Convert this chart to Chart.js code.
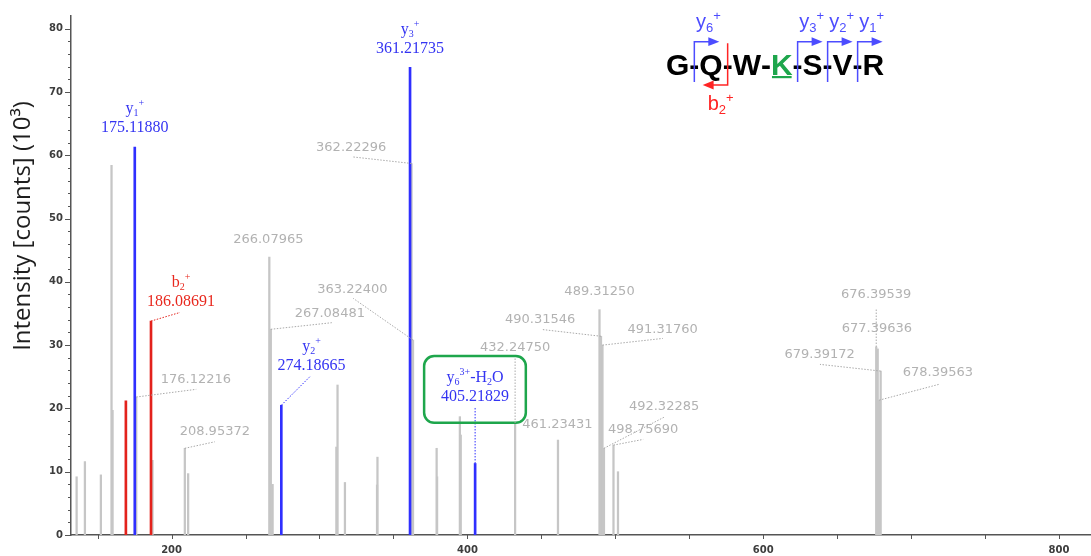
<!DOCTYPE html>
<html>
<head>
<meta charset="utf-8">
<script src="https://cdn.jsdelivr.net/npm/chart.js@4.4.0/dist/chart.umd.min.js"></script>
<style>
  html, body { margin: 0; padding: 0; background: #ffffff; }
  #wrap { width: 1091px; height: 556px; position: relative; }
</style>
</head>
<body>
<div id="wrap"><canvas id="c" width="1091" height="556"></canvas></div>
<script>
// MS/MS spectrum of G-Q-W-K-S-V-R, intensities in 10^3 counts

// unassigned peaks
const grayMz  = [135.8, 141.4, 152.2, 159.4, 160.1, 176.12216, 187.09, 208.95372, 211.2,
                 266.07965, 267.08481, 268.3, 311.4, 312.2, 317.2, 338.9, 339.2,
                 362.22296, 363.22400, 379.2, 379.5, 394.9, 395.5, 432.24750, 461.23431,
                 489.31250, 490.31546, 491.31760, 492.32285, 498.75690, 501.8,
                 676.39539, 677.39636, 678.39563, 679.39172];
const grayInt = [9.2, 11.6, 9.5, 58.4, 19.7, 21.8, 11.8, 13.7, 9.7,
                 43.9, 32.5, 8.0, 13.9, 23.7, 8.3, 7.9, 12.3,
                 58.7, 30.8, 13.7, 9.2, 18.7, 15.8, 17.7, 15.0,
                 35.6, 31.4, 30.0, 13.7, 14.2, 10.0,
                 29.7, 29.4, 21.3, 25.9];

// y-type fragment ions
const yIonMz  = [175.11880, 274.18665, 361.21735, 405.21829];
const yIonInt = [61.3, 20.5, 73.9, 11.3];
const yIonName = ['y_1^+', 'y_2^+', 'y_3^+', 'y_6^3^+-H_2O'];

// b-type fragment ions
const bIonMz  = [169.1, 186.08691];
const bIonInt = [21.2, 33.8];
const bIonName = ['', 'b_2^+'];

// annotated unassigned peaks
const grayLabelMz = [176.12216, 208.95372, 266.07965, 267.08481, 363.22400, 362.22296,
                     432.24750, 461.23431, 489.31250, 490.31546, 491.31760, 492.32285,
                     498.75690, 676.39539, 677.39636, 679.39172, 678.39563];

// axis ticks
const xTickStep = 50, xLabelStep = 200;
const yTickStep = 2,  yLabelStep = 10;

// peptide sequence and fragment cleavage sites (index of residue before the cut)
const sequence = ['G', 'Q', 'W', 'K', 'S', 'V', 'R'];
const modifiedResidue = 3;
const fragments = [
  { name: 'y_6^+', cut: 0, type: 'y' },
  { name: 'b_2^+', cut: 1, type: 'b' },
  { name: 'y_3^+', cut: 3, type: 'y' },
  { name: 'y_2^+', cut: 4, type: 'y' },
  { name: 'y_1^+', cut: 5, type: 'y' }
];

// label placement: [label dx, label dy, leader end dx, leader end dy] relative to the peak top (px)
const labelPlacement = {
  '175.1188':  [0, -15, null, null],
  '186.08691': [30, -15, 29, -8.6],
  '274.18665': [30.2, -35.2, 28.5, -28.5],
  '361.21735': [0, -14.3, null, null],
  '405.21829': [0, -62.7, 0, -56.7],
  '176.12216': [59.6, -14, 60, -7.7],
  '208.95372': [30, -13, 30, -6.5],
  '266.07965': [-1, -14, null, null],
  '267.08481': [59, -12.5, 61, -6.6],
  '363.224':   [-60.6, -46.7, -59.8, -41.7],
  '362.22296': [-60.3, -12.5, -58.3, -6.5],
  '432.2475':  [0, -72.2, 0, -64.6],
  '461.23431': [-0.5, -12, null, null],
  '489.3125':  [0, -14.5, null, null],
  '490.31546': [-60.8, -12.8, -59.4, -6.8],
  '491.3176':  [60.2, -12.3, 60.4, -6.7],
  '492.32285': [60.1, -38.2, 60.9, -31.5],
  '498.7569':  [29.7, -12.3, 29.7, -5.7],
  '676.39539': [0, -48.6, 0, -38.6],
  '677.39636': [-0.8, -17.2, null, null],
  '679.39172': [-61, -12.7, -60.7, -6.7],
  '678.39563': [58.7, -24.1, 60.7, -16.1]
};

const COLORS = {
  gray: '#c6c6c6', grayText: '#b2b2b2', grayLeader: '#a9a9a9',
  blue: '#2f2fff', blueText: '#3434f2',
  red: '#e3221c', redText: '#e8281e',
  green: '#1ea64c', axis: '#555555', tick: '#3d3d3d',
  seqBlue: '#4c4cff', seqRed: '#ff2424'
};

const isMult = (v, s) => Math.abs(v / s - Math.round(v / s)) < 1e-6;
const toPoints = (mz, inten) => mz.map((m, i) => ({ x: m, y: inten[i] }));

// "y_6^3^+-H_2O" -> segments with sub/superscripts
function parseIon(str) {
  const segs = [];
  for (let i = 0; i < str.length; i++) {
    const c = str[i];
    if ((c === '_' || c === '^') && i + 1 < str.length) {
      segs.push([str[i + 1], c === '_' ? 'sub' : 'sup']);
      i++;
    } else {
      const last = segs[segs.length - 1];
      if (last && last[1] === '') last[0] += c; else segs.push([c, '']);
    }
  }
  return segs;
}

function drawRich(ctx, segs, cx, baseline, size, family, color) {
  const small = Math.round(size * 0.64);
  const parts = segs.map(([t, k]) => {
    const fs = k ? small : size;
    ctx.font = fs + 'px ' + family;
    return { t, k, fs, w: ctx.measureText(t).width };
  });
  const total = parts.reduce((a, p) => a + p.w, 0);
  let x = cx - total / 2;
  ctx.fillStyle = color;
  ctx.textAlign = 'left';
  ctx.textBaseline = 'alphabetic';
  for (const p of parts) {
    ctx.font = p.fs + 'px ' + family;
    const dy = p.k === 'sub' ? size * 0.2 : (p.k === 'sup' ? -size * 0.42 : 0);
    ctx.fillText(p.t, x, baseline + dy);
    x += p.w;
  }
}

function dotted(ctx, x1, y1, x2, y2, color) {
  ctx.save();
  ctx.strokeStyle = color;
  ctx.lineWidth = 1;
  ctx.setLineDash([1.5, 1.5]);
  ctx.beginPath();
  ctx.moveTo(x1, y1);
  ctx.lineTo(x2, y2);
  ctx.stroke();
  ctx.restore();
}

function roundRect(ctx, x, y, w, h, r) {
  ctx.beginPath();
  ctx.moveTo(x + r, y);
  ctx.lineTo(x + w - r, y);
  ctx.arcTo(x + w, y, x + w, y + r, r);
  ctx.lineTo(x + w, y + h - r);
  ctx.arcTo(x + w, y + h, x + w - r, y + h, r);
  ctx.lineTo(x + r, y + h);
  ctx.arcTo(x, y + h, x, y + h - r, r);
  ctx.lineTo(x, y + r);
  ctx.arcTo(x, y, x + r, y, r);
  ctx.closePath();
}

const peakLabels = {
  id: 'peakLabels',
  afterDatasetsDraw(chart) {
    const ctx = chart.ctx, xs = chart.scales.x, ys = chart.scales.y;
    ctx.save();
    const serif = '"Liberation Serif", "DejaVu Serif", serif';
    const sans = '"DejaVu Sans", sans-serif';

    const place = (mz, h, leaderColor, drawText) => {
      const p = labelPlacement[String(mz)];
      const px = xs.getPixelForValue(mz), py = ys.getPixelForValue(h);
      if (p[2] !== null) dotted(ctx, px, py, px + p[2], py + p[3], leaderColor);
      drawText(px + p[0], py + p[1], px, py);
    };

    // assigned ions: ion name above the m/z value
    const ionGroups = [
      [yIonMz, yIonInt, yIonName, COLORS.blue, COLORS.blueText],
      [bIonMz, bIonInt, bIonName, COLORS.red, COLORS.redText]
    ];
    ionGroups.forEach(([mzs, ints, names, lineC, textC]) => {
      mzs.forEach((mz, i) => {
        if (!names[i]) return;
        place(mz, ints[i], lineC, (lx, ly, px, py) => {
          drawRich(ctx, [[mz.toFixed(5), '']], lx, ly, 16, serif, textC);
          drawRich(ctx, parseIon(names[i]), lx, ly - 19, 16, serif, textC);
          if (names[i].indexOf('H_2O') >= 0) {
            ctx.save();
            ctx.strokeStyle = COLORS.green;
            ctx.lineWidth = 2.5;
            roundRect(ctx, px - 51, py - 107.4, 101.7, 66.7, 10);
            ctx.stroke();
            ctx.restore();
          }
        });
      });
    });

    // unassigned annotated peaks
    grayLabelMz.forEach((mz) => {
      const h = grayInt[grayMz.indexOf(mz)];
      place(mz, h, COLORS.grayLeader, (lx, ly) => {
        drawRich(ctx, [[mz.toFixed(5), '']], lx, ly, 13, sans, COLORS.grayText);
      });
    });
    ctx.restore();
  }
};

const axisDecor = {
  id: 'axisDecor',
  afterDraw(chart) {
    const ctx = chart.ctx, xs = chart.scales.x, ys = chart.scales.y, area = chart.chartArea;
    ctx.save();
    ctx.strokeStyle = COLORS.axis;
    ctx.lineWidth = 1;
    ys.ticks.forEach(t => {
      if (!isMult(t.value, yTickStep) || t.value >= ys.max) return;
      const y = Math.round(ys.getPixelForValue(t.value)) + 0.5;
      const len = isMult(t.value, yLabelStep) ? 6 : 3;
      ctx.beginPath(); ctx.moveTo(area.left - len, y); ctx.lineTo(area.left, y); ctx.stroke();
    });
    xs.ticks.forEach(t => {
      if (!isMult(t.value, xTickStep)) return;
      const x = Math.round(xs.getPixelForValue(t.value)) + 0.5;
      ctx.beginPath(); ctx.moveTo(x, area.bottom); ctx.lineTo(x, area.bottom + 4); ctx.stroke();
    });

    // y axis title
    ctx.translate(23, 226);
    ctx.rotate(-Math.PI / 2);
    ctx.fillStyle = '#1e1e1e';
    ctx.font = '24px "Open Sans", sans-serif';
    ctx.textAlign = 'center';
    ctx.textBaseline = 'middle';
    ctx.fillText('Intensity [counts] (10\u00B3)', 0, 0);
    ctx.restore();

    drawSequence(ctx);
  }
};

// peptide sequence with fragment brackets (inset, top right)
function drawSequence(ctx) {
  const left = 666, baseline = 75;
  const font = 'bold 30px "Liberation Sans", Arial, sans-serif';
  ctx.save();
  ctx.font = font;
  ctx.textBaseline = 'alphabetic';
  ctx.textAlign = 'left';
  let x = left;
  const dashCenters = [];
  sequence.forEach((aa, i) => {
    ctx.font = font;
    ctx.fillStyle = i === modifiedResidue ? COLORS.green : '#000000';
    const w = ctx.measureText(aa).width;
    ctx.fillText(aa, x, baseline);
    if (i === modifiedResidue) {
      ctx.fillRect(x + 1, baseline + 1, w - 2, 2.2);
    }
    x += w;
    if (i < sequence.length - 1) {
      ctx.fillStyle = '#000000';
      const dw = ctx.measureText('-').width;
      ctx.fillText('-', x, baseline);
      dashCenters.push(x + dw / 2);
      x += dw;
    }
  });

  const labelFont = '"Liberation Sans", Arial, sans-serif';
  fragments.forEach(f => {
    const bx = dashCenters[f.cut];
    const col = f.type === 'y' ? COLORS.seqBlue : COLORS.seqRed;
    ctx.strokeStyle = col;
    ctx.fillStyle = col;
    ctx.lineWidth = 1.5;
    if (f.type === 'y') {
      ctx.beginPath();
      ctx.moveTo(bx, 82); ctx.lineTo(bx, 41.7); ctx.lineTo(bx + 15, 41.7);
      ctx.stroke();
      ctx.beginPath();
      ctx.moveTo(bx + 25, 41.7); ctx.lineTo(bx + 14, 37.3); ctx.lineTo(bx + 14, 46.1);
      ctx.closePath(); ctx.fill();
      drawRich(ctx, parseIon(f.name), bx + 14, 28, 20, labelFont, col);
    } else {
      ctx.beginPath();
      ctx.moveTo(bx, 43.3); ctx.lineTo(bx, 85); ctx.lineTo(bx - 15, 85);
      ctx.stroke();
      ctx.beginPath();
      ctx.moveTo(bx - 25, 85); ctx.lineTo(bx - 14, 80.6); ctx.lineTo(bx - 14, 89.4);
      ctx.closePath(); ctx.fill();
      drawRich(ctx, parseIon(f.name), bx - 7, 110, 20, labelFont, col);
    }
  });
  ctx.restore();
}

const tickFont = { family: '"DejaVu Sans", sans-serif', size: 10, weight: 'bold' };

new Chart(document.getElementById('c'), {
  type: 'bar',
  data: {
    datasets: [
      { label: 'y ions', data: toPoints(yIonMz, yIonInt), backgroundColor: COLORS.blue,
        barThickness: 2, stack: 'spectrum', order: 0 },
      { label: 'b ions', data: toPoints(bIonMz, bIonInt), backgroundColor: COLORS.red,
        barThickness: 2, stack: 'spectrum', order: 1 },
      { label: 'other', data: toPoints(grayMz, grayInt), backgroundColor: COLORS.gray,
        barThickness: 1.6, stack: 'spectrum', order: 2 }
    ]
  },
  options: {
    responsive: false,
    animation: false,
    layout: { padding: { top: 16, left: 0, right: 0, bottom: 0 } },
    plugins: { legend: { display: false }, tooltip: { enabled: false } },
    scales: {
      x: {
        type: 'linear', min: 132, max: 821.6, offset: false,
        grid: { display: false, drawTicks: false, offset: false },
        border: { display: true, color: COLORS.axis, width: 1.5 },
        ticks: {
          stepSize: xTickStep, autoSkip: false, maxRotation: 0, padding: 9,
          includeBounds: false,
          font: tickFont, color: COLORS.tick,
          callback: v => (isMult(v, xLabelStep) ? String(Math.round(v)) : '')
        },
        afterFit: s => { s.height = 21; }
      },
      y: {
        type: 'linear', min: 0, max: 82, stacked: false,
        grid: { display: false, drawTicks: false },
        border: { display: true, color: COLORS.axis, width: 1.5 },
        ticks: {
          stepSize: yTickStep, autoSkip: false, padding: 8,
          includeBounds: false,
          font: tickFont, color: COLORS.tick,
          callback: v => (isMult(v, yLabelStep) ? String(Math.round(v)) : '')
        },
        afterFit: s => { s.width = 71; }
      }
    }
  },
  plugins: [peakLabels, axisDecor]
});
</script>
</body>
</html>
